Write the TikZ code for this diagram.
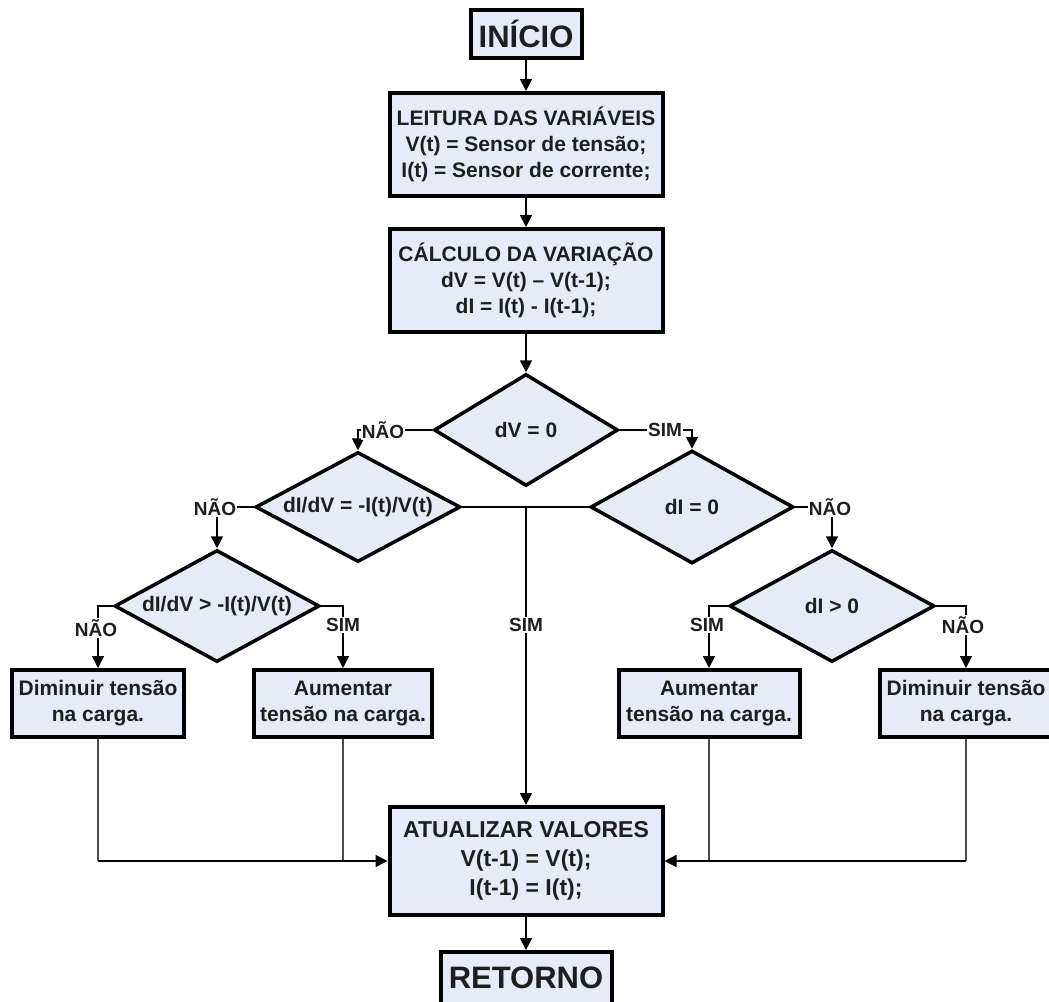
\documentclass[tikz,border=0pt]{standalone}
\usepackage{fontspec}
\setmainfont{Liberation Sans}
\usetikzlibrary{arrows.meta,shapes.geometric}
\definecolor{boxfill}{RGB}{230,236,247}
\definecolor{txt}{RGB}{30,30,30}
\begin{document}
\begin{tikzpicture}[x=1pt,y=-1pt,
  box/.style={draw=black,line width=4pt,fill=boxfill,inner sep=0pt,align=center,text=txt,font=\fontsize{21}{26}\selectfont\bfseries},
  term/.style={box,font=\fontsize{31}{34}\selectfont\bfseries},
  dec/.style={diamond,draw=black,line width=3.5pt,fill=boxfill,inner sep=0pt,text=txt,font=\fontsize{21}{24}\selectfont\bfseries},
  conn/.style={line width=1.6pt,-{Triangle[length=12pt,width=12pt]}},
  plain/.style={line width=1.6pt},
  thinline/.style={line width=1.2pt,draw=black!70},
  lbl/.style={fill=white,inner sep=1pt,text=txt,font=\fontsize{19}{22}\selectfont\bfseries},
]
\useasboundingbox (0,0) rectangle (1049,1001);
\clip (0,0) rectangle (1049,1001);
\fill[white] (0,0) rectangle (1049,1001);

% main column
\node[term,minimum width=111pt,minimum height=48pt] (ini) at (526,34) {INÍCIO};
\node[box,minimum width=273pt,minimum height=103pt] (lei) at (526,144.5) {LEITURA DAS VARIÁVEIS\\V(t) = Sensor de tensão;\\I(t) = Sensor de corrente;};
\node[box,minimum width=273pt,minimum height=103pt] (cal) at (526,280.5) {CÁLCULO DA VARIAÇÃO\\dV = V(t) – V(t-1);\\dI = I(t) - I(t-1);};

% decisions
\node[dec,minimum width=184pt,minimum height=112pt] (d1) at (526,430) {\makebox[0pt]{dV = 0}};
\node[dec,minimum width=205pt,minimum height=110pt] (d2) at (358,507) {\makebox[0pt]{dI/dV = -I(t)/V(t)}};
\node[dec,minimum width=205pt,minimum height=112pt] (d3) at (217,606) {\makebox[0pt]{dI/dV > -I(t)/V(t)}};
\node[dec,minimum width=203pt,minimum height=113pt] (d4) at (692,507) {\makebox[0pt]{dI = 0}};
\node[dec,minimum width=205pt,minimum height=112pt] (d5) at (832,606) {\makebox[0pt]{dI > 0}};

% action boxes
\node[box,minimum width=172pt,minimum height=67pt] (b1) at (98,703.5) {Diminuir tensão\\na carga.};
\node[box,minimum width=178pt,minimum height=67pt] (b2) at (343,703.5) {Aumentar\\tensão na carga.};
\node[box,minimum width=181pt,minimum height=67pt] (b3) at (709,703.5) {Aumentar\\tensão na carga.};
\node[box,minimum width=172pt,minimum height=67pt] (b4) at (966,703.5) {Diminuir tensão\\na carga.};

\node[box,font=\fontsize{23}{29}\selectfont\bfseries,minimum width=273pt,minimum height=108pt] (atu) at (526,861) {ATUALIZAR VALORES\\V(t-1) = V(t);\\I(t-1) = I(t);};
\node[term,minimum width=171pt,minimum height=52pt] (ret) at (526,978) {RETORNO};

% connectors
\draw[conn] (ini) -- (lei);
\draw[conn] (lei) -- (cal);
\draw[conn] (cal) -- (d1);

\draw[conn] (d1.west) -| (d2.north);
\node[lbl] (l1) at (383,430) {NÃO};
\draw[conn] (d1.east) -| (d4.north);
\node[lbl] (l2) at (665,430) {SIM};

\draw[conn] (d2.west) -| (d3.north);
\node[lbl] (l3) at (215,507) {NÃO};
\draw[conn] (d4.east) -| (d5.north);
\node[lbl] (l4) at (830,507) {NÃO};

\draw[conn] (d3.west) -| (b1.north);
\node[lbl] (l5) at (96,628) {NÃO};
\draw[conn] (d3.east) -| (b2.north);
\node[lbl] (l6) at (343,625) {SIM};
\draw[conn] (d5.west) -| (b3.north);
\node[lbl] (l7) at (707,625) {SIM};
\draw[conn] (d5.east) -| (b4.north);
\node[lbl] (l8) at (963,625) {NÃO};

\draw[plain] (d2.east) -- (d4.west);
\coordinate (j) at (526,507);
\draw[conn] (j) -- (atu.north);
\node[lbl] (l9) at (526,625) {SIM};

\draw[thinline] (b1.south) -- (b1.south |- atu.west);
\draw[thinline] (b2.south) -- (b2.south |- atu.west);
\draw[thinline] (b3.south) -- (b3.south |- atu.east);
\draw[thinline] (b4.south) -- (b4.south |- atu.east);
\draw[conn] (b1.south |- atu.west) -- (atu.west);
\draw[conn] (b4.south |- atu.east) -- (atu.east);

\draw[conn] (atu) -- (ret);
\end{tikzpicture}
\end{document}
